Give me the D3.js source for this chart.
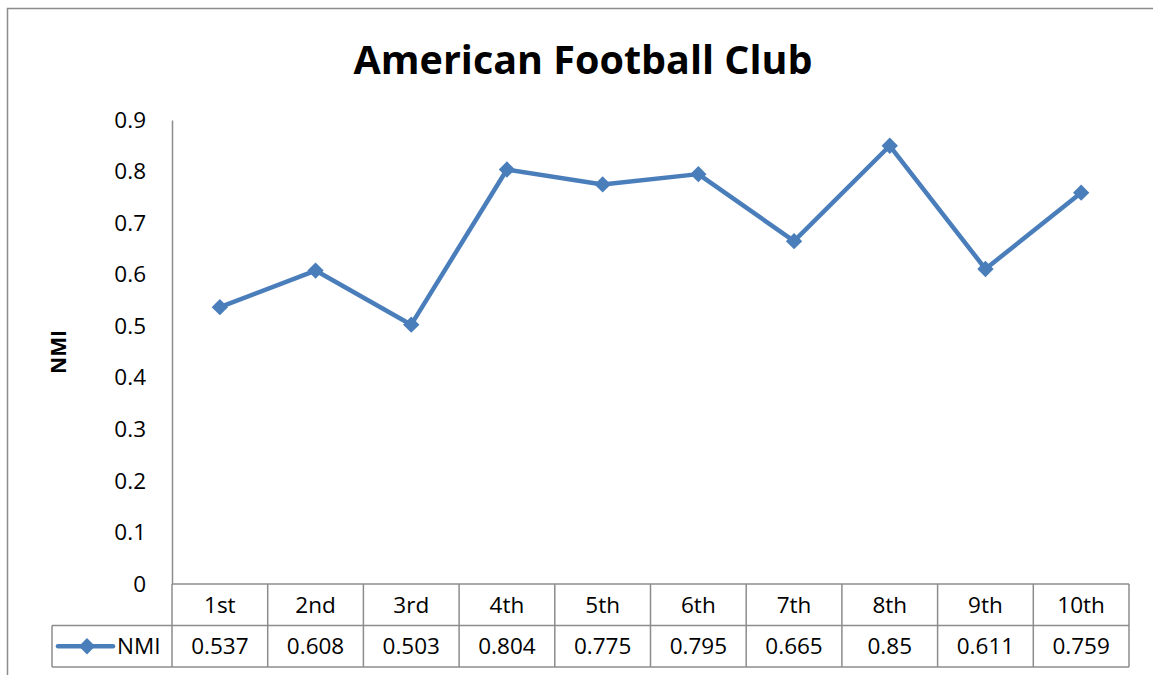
<!DOCTYPE html>
<html>
<head>
<meta charset="utf-8">
<script src="https://cdn.jsdelivr.net/npm/d3@7"></script>
<style>
  html, body { margin: 0; padding: 0; background: #fff; }
  svg { display: block; font-family: "Open Sans", "Liberation Sans", sans-serif; }
</style>
</head>
<body>
<svg id="chart" width="1153" height="675"></svg>
<script>
// Rounds and their NMI scores
const categories = ["1st", "2nd", "3rd", "4th", "5th", "6th", "7th", "8th", "9th", "10th"];
const nmiValues = [0.537, 0.608, 0.503, 0.804, 0.775, 0.795, 0.665, 0.85, 0.611, 0.759];
const nmiLabels = ["0.537", "0.608", "0.503", "0.804", "0.775", "0.795", "0.665", "0.85", "0.611", "0.759"];
const yTicks = [0, 0.1, 0.2, 0.3, 0.4, 0.5, 0.6, 0.7, 0.8, 0.9];
const seriesName = "NMI";
const chartTitle = "American Football Club";

const svg = d3.select("#chart");
const gridColor = "#8c8c8c";
const lineColor = "#4a7ebb";
const fs = 22.5;

// Chart area frame
svg.append("rect")
  .attr("x", 7.5).attr("y", 8.5)
  .attr("width", 1160).attr("height", 680)
  .attr("fill", "none").attr("stroke", gridColor).attr("stroke-width", 1.5);

const plot = { left: 172, right: 1129, top: 120, bottom: 584 };
const rowH = 41.5;

const x = d3.scaleBand().domain(categories).range([plot.left, plot.right]);
const y = d3.scaleLinear().domain([0, 0.9]).range([plot.bottom, plot.top]);

// Title
svg.append("text")
  .attr("x", 583).attr("y", 74)
  .attr("text-anchor", "middle")
  .attr("font-size", 39.5).attr("font-weight", "bold")
  .text(chartTitle);

// Y axis
const yAxis = d3.axisLeft(y).tickValues(yTicks).tickSize(0).tickPadding(26)
  .tickFormat(d => d === 0 ? "0" : d3.format(".1f")(d));
const gy = svg.append("g").attr("transform", `translate(${plot.left},0)`).call(yAxis);
gy.select(".domain").attr("stroke", gridColor).attr("stroke-width", 1.5);
gy.selectAll("text").attr("font-size", fs).attr("fill", "#000")
  .attr("font-family", "\"Open Sans\", sans-serif");

// Axis title
svg.append("text")
  .attr("transform", `translate(66,352) rotate(-90)`)
  .attr("text-anchor", "middle")
  .attr("font-size", 21).attr("font-weight", "bold")
  .text(seriesName);

// Data table below the plot
const table = svg.append("g").attr("fill", "none").attr("stroke", gridColor).attr("stroke-width", 1.5);
const tTop = plot.bottom, tMid = plot.bottom + rowH, tBot = plot.bottom + 2 * rowH;
// horizontal rules
table.append("line").attr("x1", plot.left).attr("x2", plot.right).attr("y1", tTop).attr("y2", tTop);
table.append("line").attr("x1", 52).attr("x2", plot.right).attr("y1", tMid).attr("y2", tMid);
table.append("line").attr("x1", 52).attr("x2", plot.right).attr("y1", tBot).attr("y2", tBot);
table.append("line").attr("x1", 52).attr("x2", 52).attr("y1", tMid).attr("y2", tBot);
// column rules
const edges = categories.map(c => x(c)).concat([plot.right]);
edges.forEach(ex => {
  table.append("line").attr("x1", ex).attr("x2", ex).attr("y1", tTop).attr("y2", tBot);
});

const textG = svg.append("g").attr("font-size", fs).attr("fill", "#000").attr("text-anchor", "middle");
categories.forEach((c, i) => {
  const cx = x(c) + x.bandwidth() / 2;
  textG.append("text").attr("x", cx).attr("y", tTop + rowH / 2 + 8).text(c);
  textG.append("text").attr("x", cx).attr("y", tMid + rowH / 2 + 8).text(nmiLabels[i]);
});

// Legend key in the table
const diamond = d3.symbol().type(d3.symbolDiamond2).size(170);
svg.append("line")
  .attr("x1", 58).attr("x2", 113).attr("y1", tMid + rowH / 2).attr("y2", tMid + rowH / 2)
  .attr("stroke", lineColor).attr("stroke-width", 4.5).attr("stroke-linecap", "round");
svg.append("path").attr("d", diamond)
  .attr("transform", `translate(87,${tMid + rowH / 2})`)
  .attr("fill", lineColor);
svg.append("text")
  .attr("x", 117).attr("y", tMid + rowH / 2 + 8)
  .attr("font-size", fs).text(seriesName);

// Series line and markers
const cxOf = (d, i) => x(categories[i]) + x.bandwidth() / 2;
const line = d3.line().x(cxOf).y(d => y(d));
svg.append("path").datum(nmiValues)
  .attr("d", line)
  .attr("fill", "none").attr("stroke", lineColor).attr("stroke-width", 4.5)
  .attr("stroke-linejoin", "round");
svg.append("g").selectAll("path").data(nmiValues).join("path")
  .attr("d", diamond)
  .attr("transform", (d, i) => `translate(${cxOf(d, i)},${y(d)})`)
  .attr("fill", lineColor);
</script>
</body>
</html>
